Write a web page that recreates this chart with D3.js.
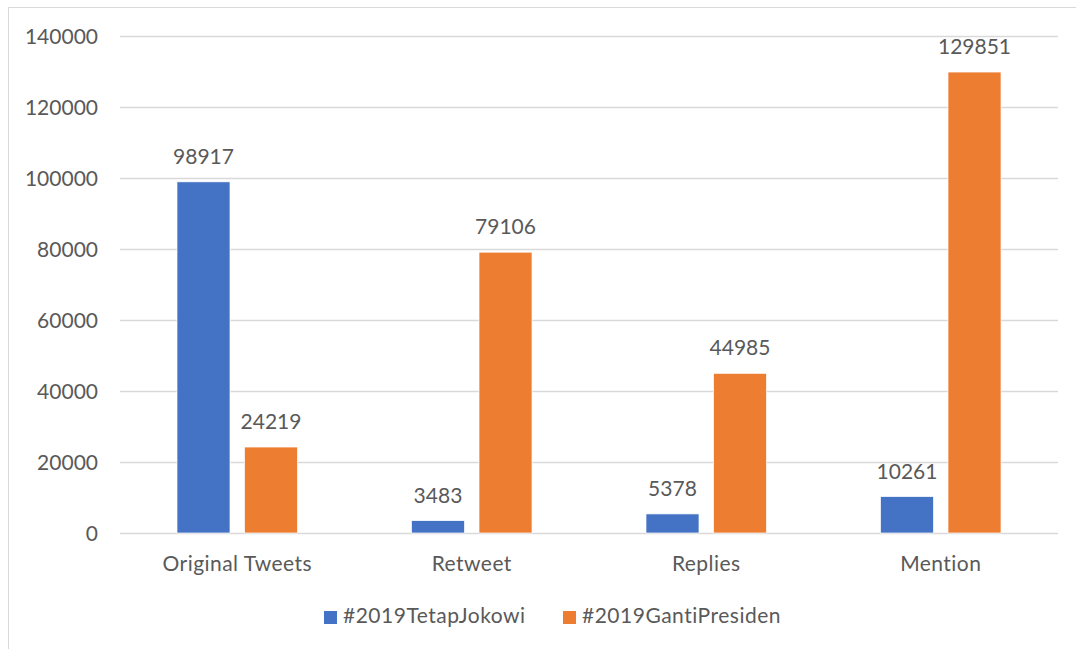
<!DOCTYPE html>
<html>
<head>
<meta charset="utf-8">
<script src="https://cdn.jsdelivr.net/npm/d3@7"></script>
<style>
  body { margin: 0; background: #fff; }
  svg text { font-family: Lato, "Open Sans", sans-serif; fill: #595959; }
</style>
</head>
<body>
<div id="chart"></div>
<script>
// Data
const categories = ["Original Tweets", "Retweet", "Replies", "Mention"];
const seriesNames = ["#2019TetapJokowi", "#2019GantiPresiden"];
const jokowiValues = [98917, 3483, 5378, 10261];
const gantiValues = [24219, 79106, 44985, 129851];
const yTicks = [0, 20000, 40000, 60000, 80000, 100000, 120000, 140000];
const seriesColors = ["#4472C4", "#ED7D31"];

const width = 1076, height = 649;
const svg = d3.select("#chart").append("svg")
    .attr("width", width)
    .attr("height", height);

// chart border (only top and left visible in the frame)
svg.append("rect")
    .attr("x", 8.5).attr("y", 7.5)
    .attr("width", 1200).attr("height", 800)
    .attr("fill", "none")
    .attr("stroke", "#d9d9d9");

const plot = { left: 120, right: 1058, top: 36, bottom: 533 };

const x0 = d3.scaleBand()
    .domain(categories)
    .range([plot.left, plot.right])
    .paddingInner(0.486)
    .paddingOuter(0.243);

const x1 = d3.scaleBand()
    .domain(seriesNames)
    .range([0, x0.bandwidth()])
    .paddingInner(0.215);

const y = d3.scaleLinear()
    .domain([0, 140000])
    .range([plot.bottom, plot.top]);

// gridlines
svg.append("g").selectAll("line")
    .data(yTicks)
    .join("line")
    .attr("x1", plot.left).attr("x2", plot.right)
    .attr("y1", d => Math.round(y(d)) + 0.5)
    .attr("y2", d => Math.round(y(d)) + 0.5)
    .attr("stroke", "#d9d9d9")
    .attr("stroke-width", 1.3);

// y tick labels
svg.append("g").selectAll("text")
    .data(yTicks)
    .join("text")
    .attr("x", 98)
    .attr("y", d => y(d))
    .attr("dy", "0.36em")
    .attr("text-anchor", "end")
    .attr("font-size", 21)
    .text(d => d);

const rows = categories.map((c, i) => ({
    category: c,
    values: [jokowiValues[i], gantiValues[i]]
}));

const groups = svg.append("g").selectAll("g")
    .data(rows)
    .join("g")
    .attr("transform", d => `translate(${x0(d.category)},0)`);

groups.selectAll("rect")
    .data(d => d.values.map((v, j) => ({ name: seriesNames[j], value: v, color: seriesColors[j] })))
    .join("rect")
    .attr("x", d => x1(d.name))
    .attr("y", d => y(d.value))
    .attr("width", x1.bandwidth())
    .attr("height", d => y(0) - y(d.value))
    .attr("fill", d => d.color)
    .attr("stroke", "#fff")
    .attr("stroke-width", 0.7);

groups.selectAll("text.val")
    .data(d => d.values.map((v, j) => ({ name: seriesNames[j], value: v })))
    .join("text")
    .attr("class", "val")
    .attr("x", d => x1(d.name) + x1.bandwidth() / 2)
    .attr("y", d => y(d.value) - 18)
    .attr("text-anchor", "middle")
    .attr("font-size", 21)
    .text(d => d.value);

// category labels
svg.append("g").selectAll("text")
    .data(categories)
    .join("text")
    .attr("x", d => x0(d) + x0.bandwidth() / 2)
    .attr("y", 571)
    .attr("text-anchor", "middle")
    .attr("font-size", 21)
    .attr("letter-spacing", 0.45)
    .text(d => d);

// legend
const legendX = [324, 563];
const legend = svg.append("g").selectAll("g")
    .data(seriesNames)
    .join("g")
    .attr("transform", (d, i) => `translate(${legendX[i]},611)`);

legend.append("rect")
    .attr("width", 13).attr("height", 13)
    .attr("fill", (d, i) => seriesColors[i]);

legend.append("text")
    .attr("x", 19)
    .attr("y", 12)
    .attr("font-size", 21)
    .attr("letter-spacing", 0.5)
    .text(d => d);
</script>
</body>
</html>
